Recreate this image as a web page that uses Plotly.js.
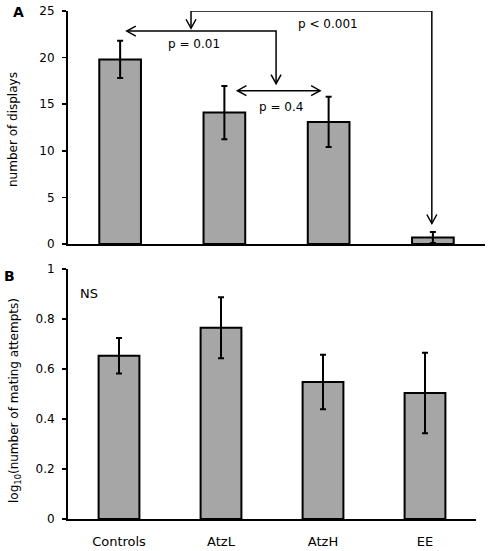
<!DOCTYPE html>
<html>
<head>
<meta charset="utf-8">
<script src="https://cdn.plot.ly/plotly-3.0.1.min.js"></script>
<style>html,body{margin:0;padding:0;background:#fff;}#chart{width:490px;height:551px;}</style>
</head>
<body>
<div id="chart"></div>
<script>
// ---- data ----
const categories = ['Controls', 'AtzL', 'AtzH', 'EE'];
const displaysMean = [19.8, 14.1, 13.1, 0.7];
const displaysErr = [2.0, 2.85, 2.7, 0.6];
const matingMean = [0.653, 0.765, 0.548, 0.504];
const matingErr = [0.071, 0.122, 0.109, 0.161];
const pLabels = ['p = 0.01', 'p = 0.4', 'p < 0.001'];
const panelLabels = ['A', 'B'];
const nsLabel = 'NS';
const yTitleA = 'number of displays';
const yTitleB = 'log<sub>10</sub>(number of mating attempts)';

// ---- layout geometry (pixels) ----
const W = 490, H = 551;
const axL = 68, axRA = 485, axRB = 476;
const aTop = 11, aBot = 244, bTop = 269, bBot = 519;
const FONT = 'DejaVu Sans, Verdana, sans-serif';
const xIdx = categories.map((c, i) => i);

const xsA = (axRA - axL) / 4;           // px per category unit, panel A
const ysA = (aBot - aTop) / 25;         // px per y unit, panel A

function chev(xt, yt, dir) {
  const L = 9, Wd = 5;
  let p;
  if (dir === 'left') p = `M${xt + L / xsA},${yt + Wd / ysA} L${xt},${yt} L${xt + L / xsA},${yt - Wd / ysA}`;
  else if (dir === 'right') p = `M${xt - L / xsA},${yt + Wd / ysA} L${xt},${yt} L${xt - L / xsA},${yt - Wd / ysA}`;
  else p = `M${xt - Wd / xsA},${yt + L / ysA} L${xt},${yt} L${xt + Wd / xsA},${yt + L / ysA}`;
  return {type: 'path', xref: 'x', yref: 'y', path: p, line: {color: 'black', width: 1.5}};
}
function seg(pts) {
  return {type: 'path', xref: 'x', yref: 'y',
    path: pts.map((q, i) => (i ? 'L' : 'M') + q[0] + ',' + q[1]).join(' '),
    line: {color: 'black', width: 1.5}};
}

const esc = s => s.replace(/</g, '&lt;');

const barStyle = {color: '#a6a6a6', line: {color: 'black', width: 2}};
const errStyle = {type: 'data', visible: true, color: 'black', thickness: 2, width: 3};

const traces = [
  {type: 'bar', x: xIdx, y: displaysMean, xaxis: 'x', yaxis: 'y',
   marker: barStyle, error_y: Object.assign({array: displaysErr}, errStyle), hoverinfo: 'skip'},
  {type: 'bar', x: xIdx, y: matingMean, xaxis: 'x2', yaxis: 'y2',
   marker: barStyle, error_y: Object.assign({array: matingErr}, errStyle), hoverinfo: 'skip'}
];

const axisCommon = {showline: true, linecolor: 'black', linewidth: 2, showgrid: false, zeroline: false,
  tickfont: {family: FONT, size: 12, color: 'black'}};

const ann = (o) => Object.assign({showarrow: false, xanchor: 'center', yanchor: 'middle'}, o);

const layout = {
  width: W, height: H, margin: {l: 0, r: 0, t: 0, b: 0},
  paper_bgcolor: 'white', plot_bgcolor: 'white', showlegend: false, bargap: 0.6,
  font: {family: FONT, size: 12, color: 'black'},
  xaxis: Object.assign({}, axisCommon, {domain: [axL / W, axRA / W], anchor: 'y', range: [-0.5, 3.5],
    showticklabels: false, ticks: ''}),
  yaxis: Object.assign({}, axisCommon, {domain: [1 - aBot / H, 1 - aTop / H], anchor: 'x', range: [0, 25], dtick: 5,
    ticks: 'outside', ticklen: 4, tickwidth: 1.5, tickcolor: 'black', ticklabelstandoff: 5}),
  xaxis2: Object.assign({}, axisCommon, {domain: [axL / W, axRB / W], anchor: 'y2', range: [-0.5, 3.5],
    tickvals: xIdx, ticktext: categories, ticks: '', ticklabelstandoff: 9,
    tickfont: {family: FONT, size: 13, color: 'black'}}),
  yaxis2: Object.assign({}, axisCommon, {domain: [1 - bBot / H, 1 - bTop / H], anchor: 'x2', range: [0, 1], dtick: 0.2,
    ticks: 'outside', ticklen: 4, tickwidth: 1.5, tickcolor: 'black', ticklabelstandoff: 5}),
  shapes: [
    // p < 0.001 bracket (from the Controls-vs-Atz arrow to EE)
    seg([[0.68, 23.15], [0.68, 25], [2.99, 25], [2.99, 2.2]]),
    chev(0.68, 23.15, 'down'),
    chev(2.99, 2.2, 'down'),
    // p = 0.01 arrow (Controls to AtzL/AtzH)
    seg([[0.064, 22.85], [1.496, 22.85], [1.496, 17.2]]),
    chev(0.064, 22.85, 'left'),
    chev(1.496, 17.2, 'down'),
    // p = 0.4 double arrow
    seg([[1.125, 16.45], [1.918, 16.45]]),
    chev(1.125, 16.45, 'left'),
    chev(1.918, 16.45, 'right')
  ],
  annotations: [
    ann({text: esc(pLabels[0]), xref: 'x', yref: 'y', x: 0.705, y: 21.45, font: {size: 12}}),
    ann({text: esc(pLabels[1]), xref: 'x', yref: 'y', x: 1.54, y: 14.7, font: {size: 12}}),
    ann({text: esc(pLabels[2]), xref: 'x', yref: 'y', x: 1.99, y: 23.6, font: {size: 12}}),
    ann({text: nsLabel, xref: 'x2', yref: 'y2', x: -0.29, y: 0.904, font: {size: 13}}),
    ann({text: '<b>' + panelLabels[0] + '</b>', xref: 'paper', yref: 'paper', x: 18 / W, y: 1 - 12 / H,
     font: {size: 14}}),
    ann({text: '<b>' + panelLabels[1] + '</b>', xref: 'paper', yref: 'paper', x: 9 / W, y: 1 - 276 / H,
     font: {size: 14}}),
    ann({text: yTitleA, xref: 'paper', yref: 'paper', x: 13 / W, y: 1 - 130 / H, textangle: -90,
     font: {size: 12}}),
    ann({text: yTitleB, xref: 'paper', yref: 'paper', x: 15 / W, y: 1 - 401 / H, textangle: -90,
     font: {size: 12}})
  ]
};

Plotly.newPlot('chart', traces, layout, {staticPlot: true, displayModeBar: false});
</script>
</body>
</html>
